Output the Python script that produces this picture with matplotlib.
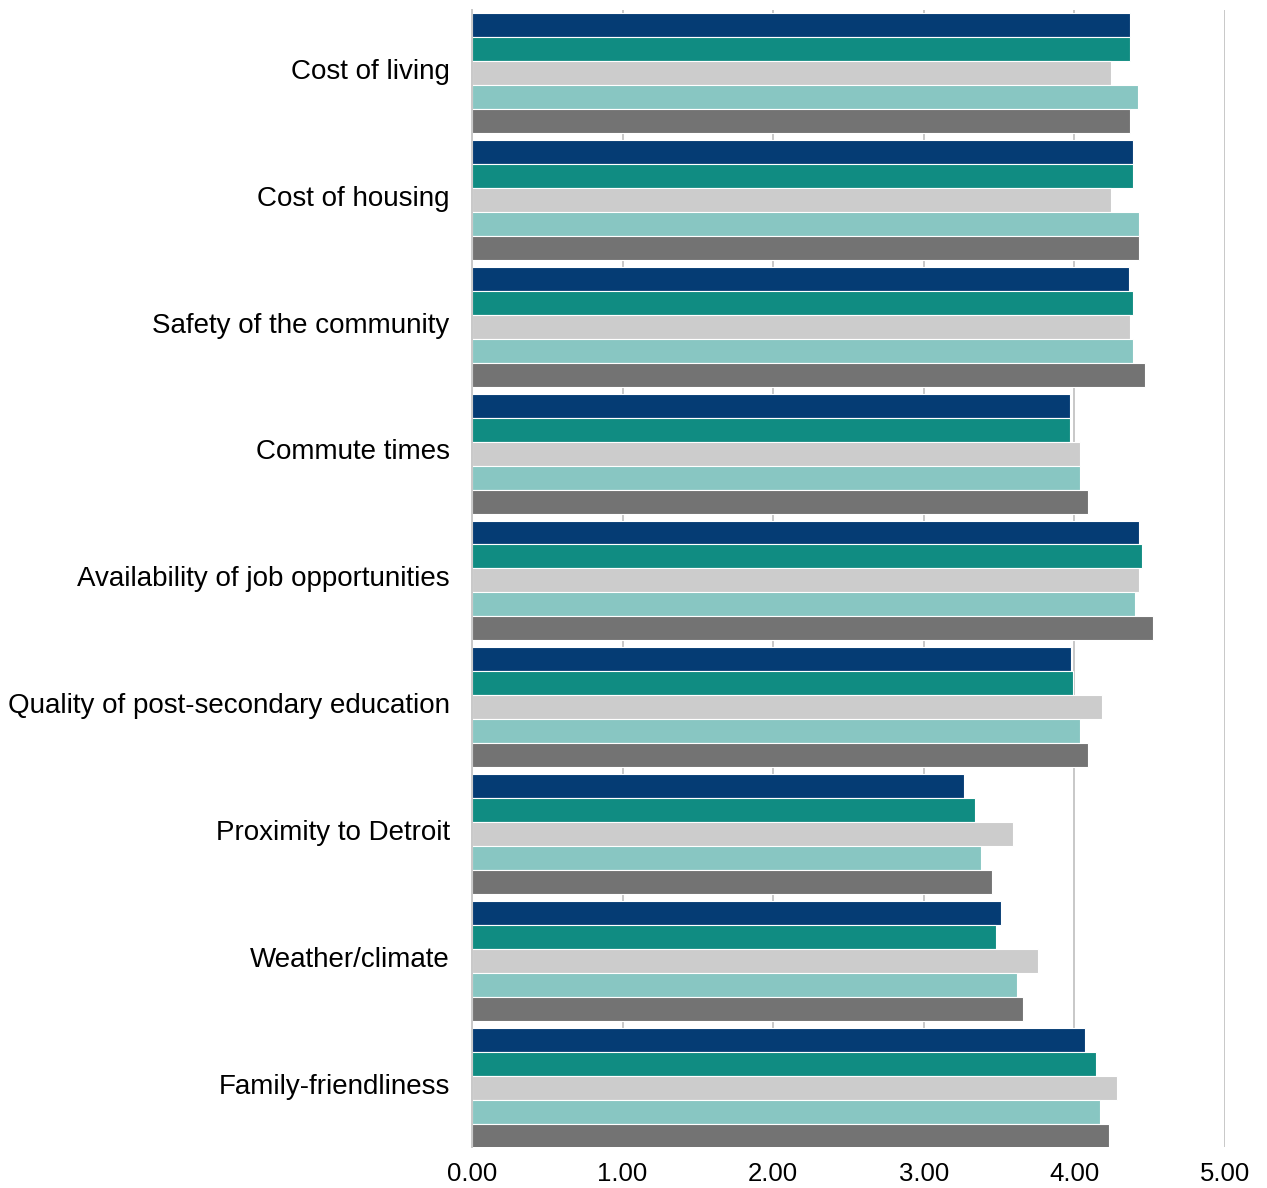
import matplotlib.pyplot as plt
import matplotlib.transforms as mtransforms
import numpy as np

plt.rcParams["font.family"] = ["Liberation Sans", "DejaVu Sans"]

categories = [
    "Cost of living",
    "Cost of housing",
    "Safety of the community",
    "Commute times",
    "Availability of job opportunities",
    "Quality of post-secondary education",
    "Proximity to Detroit",
    "Weather/climate",
    "Family-friendliness",
]

# mean importance rating per factor, one list per respondent group
group_1 = [4.37, 4.39, 4.36, 3.97, 4.43, 3.98, 3.27, 3.51, 4.07]
group_2 = [4.37, 4.39, 4.39, 3.97, 4.45, 3.99, 3.34, 3.48, 4.14]
group_3 = [4.24, 4.24, 4.37, 4.04, 4.43, 4.18, 3.59, 3.76, 4.28]
group_4 = [4.42, 4.43, 4.39, 4.04, 4.40, 4.04, 3.38, 3.62, 4.17]
group_5 = [4.37, 4.43, 4.47, 4.09, 4.52, 4.09, 3.45, 3.66, 4.23]

series = [group_1, group_2, group_3, group_4, group_5]
colors = ["#053c74", "#108c82", "#cccccc", "#88c6c2", "#737373"]

fig = plt.figure(figsize=(12.67, 11.88), dpi=100)
ax = fig.add_axes([0.3725, 0.0345, 0.5944, 0.957])

y = np.arange(len(categories))
bar_h = 0.189
offsets = (np.arange(len(series)) - (len(series) - 1) / 2) * bar_h
for vals, off, col in zip(series, offsets, colors):
    ax.barh(y + off, vals, height=bar_h, color=col, edgecolor="white",
            linewidth=0.8, zorder=2)

ax.set_xlim(0, 5)
ax.set_ylim(8.465, -0.495)
ax.set_xticks(np.arange(0, 6))
ax.set_xticklabels([f"{v:.2f}" for v in range(6)], fontsize=18.5)
ax.set_yticks(y)
ax.set_yticklabels(categories, fontsize=20)
ax.tick_params(axis="both", length=0)
ax.tick_params(axis="y", pad=16)
ax.tick_params(axis="x", pad=11)

# nudge category labels up a little
shift = mtransforms.ScaledTranslation(0, 3 / 72, fig.dpi_scale_trans)
for lbl in ax.get_yticklabels():
    lbl.set_transform(lbl.get_transform() + shift)

ax.grid(axis="x", color="#c8c8c8", linewidth=1.4, zorder=0)
ax.set_axisbelow(True)
for side in ["top", "right", "bottom"]:
    ax.spines[side].set_visible(False)
ax.spines["left"].set_color("#c8c8c8")
ax.spines["left"].set_linewidth(1.4)

fig.savefig("out.png", dpi=100)
